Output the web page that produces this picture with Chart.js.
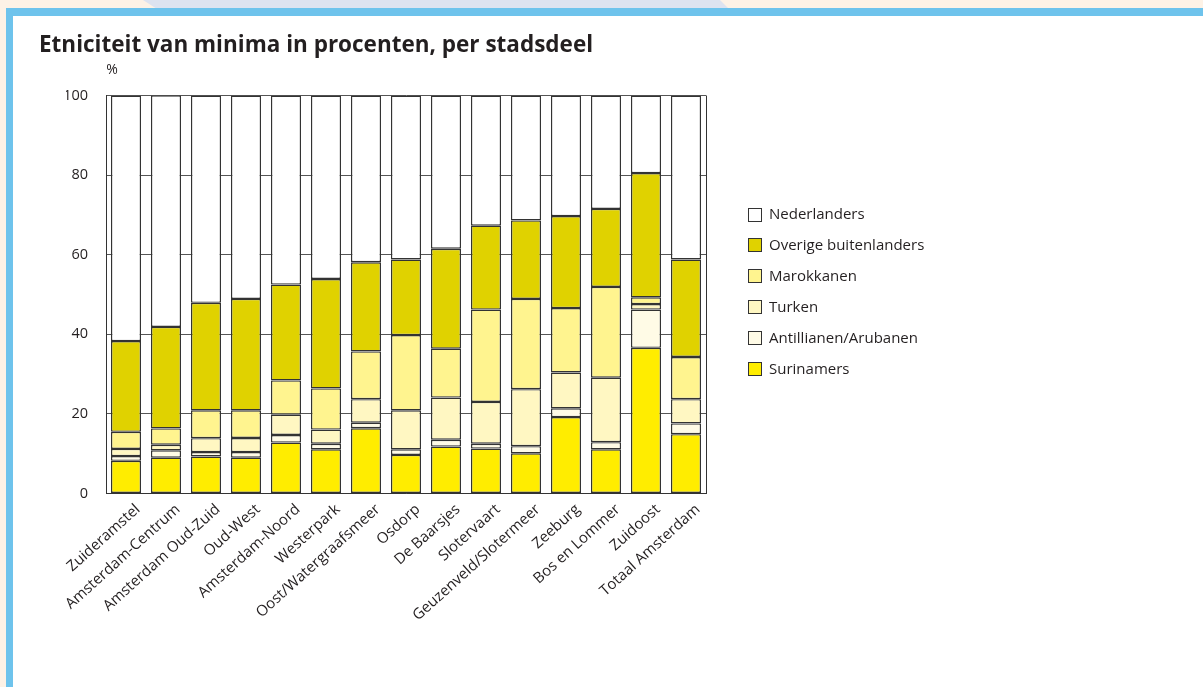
<!DOCTYPE html>
<html>
<head>
<meta charset="utf-8">
<script src="https://cdn.jsdelivr.net/npm/chart.js@4.4.1/dist/chart.umd.min.js"></script>
<style>
  html, body { margin: 0; padding: 0; }
  body { width: 1203px; height: 687px; position: relative; overflow: hidden; background: #fdf2e6; }
  #lav { position: absolute; left: 0; top: 0; width: 1203px; height: 9px; background: #dde3f0;
         clip-path: polygon(143px 0, 720px 0, 729px 9px, 157px 9px); }
  #blueTop { position: absolute; left: 6px; top: 8px; width: 1197px; height: 8px; background: #6ec3ec; }
  #blueLeft { position: absolute; left: 6px; top: 8px; width: 7px; height: 679px; background: #6ec3ec; }
  #white { position: absolute; left: 13px; top: 16px; width: 1190px; height: 671px; background: #ffffff; }
  #wrap { position: absolute; left: 0; top: 0; width: 1203px; height: 687px; }
</style>
</head>
<body>
<div id="lav"></div>
<div id="blueTop"></div>
<div id="blueLeft"></div>
<div id="white"></div>
<div id="wrap"><canvas id="c" width="1203" height="687"></canvas></div>
<script>
const titleText = 'Etniciteit van minima in procenten, per stadsdeel';
const unitLabel = '%';
const categories = ['Zuideramstel', 'Amsterdam-Centrum', 'Amsterdam Oud-Zuid', 'Oud-West', 'Amsterdam-Noord',
  'Westerpark', 'Oost/Watergraafsmeer', 'Osdorp', 'De Baarsjes', 'Slotervaart', 'Geuzenveld/Slotermeer',
  'Zeeburg', 'Bos en Lommer', 'Zuidoost', 'Totaal Amsterdam'];
const yTicks = [0, 20, 40, 60, 80, 100];

const surinamers   = [8.2, 9.0, 9.3, 9.0, 12.8, 11.1, 16.4, 9.7, 11.8, 11.3, 10.1, 19.2, 11.1, 36.6, 14.9];
const antillianen  = [1.2, 1.85, 1.1, 1.4, 1.9, 1.4, 1.4, 1.4, 1.7, 1.2, 1.8, 2.2, 1.8, 9.6, 2.7];
const turken       = [1.8, 1.4, 3.5, 3.55, 5.1, 3.55, 5.9, 9.8, 10.6, 10.5, 14.3, 9.0, 16.2, 1.4, 6.1];
const marokkanen   = [4.3, 4.1, 7.0, 6.95, 8.6, 10.35, 12.0, 18.9, 12.3, 23.2, 22.7, 16.2, 22.8, 1.7, 10.6];
const overige      = [22.8, 25.5, 27.0, 28.0, 24.1, 27.5, 22.4, 19.0, 25.1, 21.1, 19.7, 23.1, 19.6, 31.2, 24.5];
const nederlanders = [61.7, 58.2, 52.1, 51.1, 47.5, 46.1, 41.9, 41.2, 38.5, 32.7, 31.4, 30.3, 28.5, 19.5, 41.2];

const seriesNames = ['Surinamers', 'Antillianen/Arubanen', 'Turken', 'Marokkanen', 'Overige buitenlanders', 'Nederlanders'];
const seriesValues = [surinamers, antillianen, turken, marokkanen, overige, nederlanders];
const seriesColors = ['#ffed00', '#fffbe6', '#fff7c2', '#fff48f', '#e0d200', '#ffffff'];

const FONT = "'Open Sans', 'Noto Sans', sans-serif";
const TEXT = '#231f20';
const EDGE = '#333333';

// fit title font size to the reference width
const mctx = document.createElement('canvas').getContext('2d');
mctx.font = 'bold 20px ' + FONT;
const titleSize = 20 * 554 / mctx.measureText(titleText).width;

const decorPlugin = {
  id: 'decor',
  beforeDatasetsDraw(chart) {
    const { ctx, chartArea: a } = chart;
    ctx.save();
    ctx.strokeStyle = EDGE;
    ctx.lineWidth = 1;
    ctx.beginPath();
    ctx.moveTo(Math.round(a.right) + 0.5, a.top);
    ctx.lineTo(Math.round(a.right) + 0.5, a.bottom);
    ctx.stroke();
    ctx.restore();
  },
  afterDraw(chart) {
    const { ctx } = chart;
    ctx.save();
    ctx.fillStyle = TEXT;
    ctx.textAlign = 'left';
    ctx.textBaseline = 'alphabetic';
    ctx.font = 'bold ' + titleSize.toFixed(2) + 'px ' + FONT;
    ctx.fillText(titleText, 39, 52);
    ctx.font = '14px ' + FONT;
    ctx.textBaseline = 'middle';
    ctx.textAlign = 'center';
    ctx.fillText(unitLabel, 112, 70);
    // legend (reverse stacking order)
    ctx.textAlign = 'left';
    ctx.font = '15px ' + FONT;
    const order = [5, 4, 3, 2, 1, 0];
    order.forEach((di, i) => {
      const cy = 214.5 + i * 30.9;
      ctx.fillStyle = seriesColors[di];
      ctx.fillRect(748, Math.round(cy - 7), 14, 14);
      ctx.strokeStyle = EDGE;
      ctx.lineWidth = 1;
      ctx.strokeRect(748.5, Math.round(cy - 7) + 0.5, 13, 13);
      ctx.fillStyle = TEXT;
      ctx.fillText(seriesNames[di], 769, cy + 0.5);
    });
    ctx.restore();
  }
};

new Chart(document.getElementById('c'), {
  type: 'bar',
  data: {
    labels: categories,
    datasets: seriesNames.map((n, i) => ({
      label: n,
      data: seriesValues[i],
      backgroundColor: seriesColors[i],
      borderColor: EDGE,
      borderWidth: 1.4,
      borderSkipped: false,
      barPercentage: 0.75,
      categoryPercentage: 1.0
    }))
  },
  options: {
    responsive: false,
    animation: false,
    devicePixelRatio: 1,
    layout: { padding: { left: 66, right: 497, top: 95.5, bottom: 0 } },
    plugins: { legend: { display: false }, title: { display: false }, tooltip: { enabled: false } },
    scales: {
      x: {
        stacked: true,
        grid: { display: false, drawTicks: false },
        border: { display: true, color: EDGE, width: 1 },
        ticks: { autoSkip: false, maxRotation: 42, minRotation: 42, padding: 7, labelOffset: 12,
                 color: TEXT, font: { family: FONT, size: 15 } },
        afterFit(s) { s.height = 193.5; }
      },
      y: {
        stacked: true,
        min: 0, max: 100,
        afterBuildTicks(s) { s.ticks = yTicks.map(v => ({ value: v })); },
        grid: { color: '#555555', lineWidth: 1, drawTicks: false },
        border: { display: true, color: EDGE, width: 1 },
        ticks: { padding: 18, color: TEXT, font: { family: FONT, size: 14.5 } },
        afterFit(s) { s.width = 40; }
      }
    }
  },
  plugins: [decorPlugin]
});
</script>
</body>
</html>
